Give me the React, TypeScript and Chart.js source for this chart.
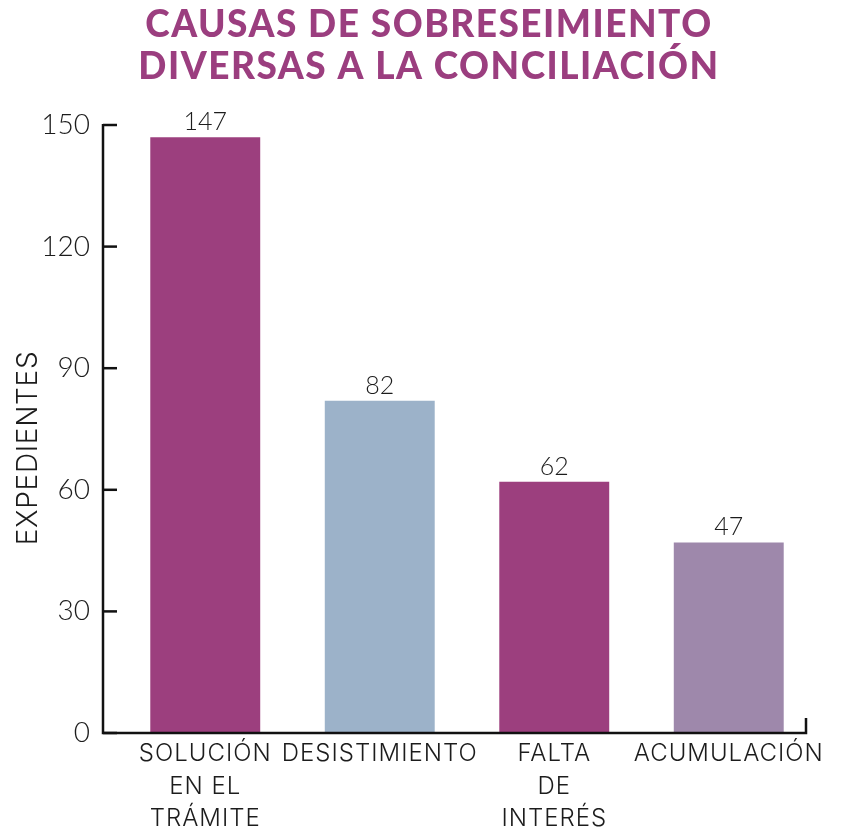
import React, { useEffect, useRef } from "react";
import { Chart, registerables } from "chart.js";

Chart.register(...registerables);

const titleLines = ["CAUSAS DE SOBRESEIMIENTO", "DIVERSAS A LA CONCILIACIÓN"];
const categories = [
  ["SOLUCIÓN", "EN EL", "TRÁMITE"],
  ["DESISTIMIENTO"],
  ["FALTA", "DE", "INTERÉS"],
  ["ACUMULACIÓN"],
];
const values = [147, 82, 62, 47];
const barColors = ["#9c3f7e", "#9cb2c9", "#9c3f7e", "#9e88ab"];
const yMin = 0;
const yMax = 150;
const yStep = 30;
const yTitle = "EXPEDIENTES";

const TEXT = "#1c1c1c";
const LABEL_FONT = "Inter";
const NUM_FONT = "Lato";

const decorPlugin = {
  id: "decor",
  beforeDraw(chart: any) {
    chart.ctx.letterSpacing = "0px";
  },
  afterDatasetsDraw(chart: any) {
    const { ctx, chartArea, scales } = chart;
    const y = scales.y;
    const x = scales.x;
    const axisX = chartArea.left - 15;
    const axisY = chartArea.bottom;
    ctx.save();
    // value labels
    const meta = chart.getDatasetMeta(0);
    ctx.fillStyle = TEXT;
    ctx.font = `300 25px ${NUM_FONT}`;
    ctx.textAlign = "center";
    ctx.textBaseline = "alphabetic";
    meta.data.forEach((bar: any, i: number) => {
      ctx.fillText(String(values[i]), bar.x, bar.y - 7);
    });
    // axes
    ctx.strokeStyle = "#111";
    ctx.lineWidth = 2.5;
    ctx.beginPath();
    ctx.moveTo(axisX, y.getPixelForValue(yMax) - 1);
    ctx.lineTo(axisX, axisY);
    ctx.lineTo(x.right - 10, axisY);
    ctx.lineTo(x.right - 10, axisY - 15);
    ctx.stroke();
    // inward y ticks
    for (let v = yMin; v <= yMax; v += yStep) {
      const py = y.getPixelForValue(v);
      ctx.beginPath();
      ctx.moveTo(axisX, py);
      ctx.lineTo(axisX + 14, py);
      ctx.stroke();
    }
    // y title
    ctx.save();
    ctx.translate(29, (chartArea.top + chartArea.bottom) / 2 + 19);
    ctx.rotate(-Math.PI / 2);
    ctx.letterSpacing = "0.7px";
    ctx.font = `300 28px ${LABEL_FONT}`;
    ctx.fillStyle = TEXT;
    ctx.textAlign = "center";
    ctx.textBaseline = "middle";
    ctx.fillText(yTitle, 0, 0);
    ctx.restore();
    // main title
    ctx.letterSpacing = "1.5px";
    ctx.font = `900 37px Lato`;
    ctx.fillStyle = "#9b3e7f";
    ctx.textAlign = "center";
    ctx.textBaseline = "alphabetic";
    ctx.fillText(titleLines[0], 429, 37);
    ctx.fillText(titleLines[1], 429, 79);
    ctx.restore();
    // spacing for the x tick labels, which are drawn after this hook (z: 1)
    ctx.letterSpacing = "1px";
  },
  afterDraw(chart: any) {
    chart.ctx.letterSpacing = "0px";
  },
};

export default function App() {
  const ref = useRef<HTMLCanvasElement | null>(null);
  useEffect(() => {
    document.body.style.margin = "0";
    const canvas = ref.current!;
    const chart = new Chart(canvas, {
      type: "bar",
      data: {
        labels: categories,
        datasets: [
          {
            data: values,
            backgroundColor: barColors,
            borderWidth: 0,
            barPercentage: 0.63,
            categoryPercentage: 1,
          },
        ],
      },
      options: {
        responsive: false,
        animation: false,
        devicePixelRatio: 1,
        layout: { padding: { top: 125, right: 26, bottom: 0, left: 0 } },
        plugins: {
          legend: { display: false },
          tooltip: { enabled: false },
          title: { display: false },
        },
        scales: {
          x: {
            grid: { display: false, drawTicks: false },
            border: { display: false },
            ticks: {
              z: 1,
              color: TEXT,
              font: { family: LABEL_FONT, size: 24, weight: "300", lineHeight: 1.35 },
              padding: 5,
              maxRotation: 0,
              autoSkip: false,
            },
            afterFit: (s: any) => {
              s.height = 99;
            },
          },
          y: {
            min: yMin,
            max: yMax,
            grid: { display: false, drawTicks: false },
            border: { display: false },
            ticks: {
              stepSize: yStep,
              color: TEXT,
              font: { family: NUM_FONT, size: 28, weight: "300" },
              padding: 28,
            },
            afterFit: (s: any) => {
              s.width = 118;
            },
          },
        },
      },
      plugins: [decorPlugin],
    });
    return () => chart.destroy();
  }, []);
  return (
    <div style={{ width: 842, height: 832 }}>
      <canvas ref={ref} width={842} height={832} style={{ display: "block" }} />
    </div>
  );
}
